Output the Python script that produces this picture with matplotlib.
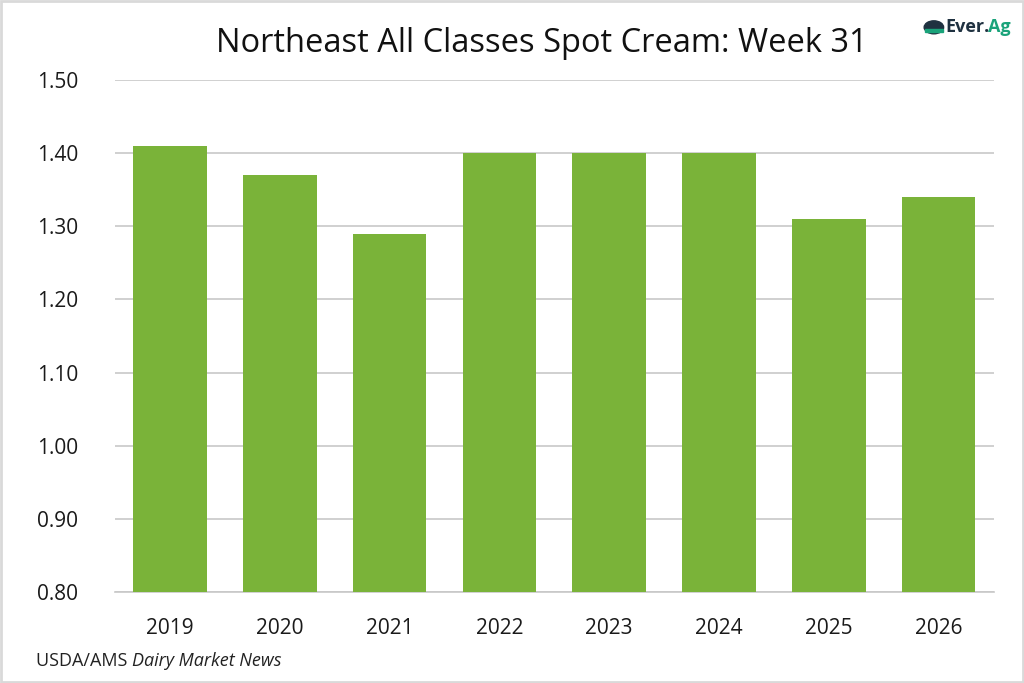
import matplotlib.pyplot as plt
import matplotlib.patches as mpatches
import numpy as np

years = ['2019', '2020', '2021', '2022', '2023', '2024', '2025', '2026']
prices = [1.41, 1.37, 1.29, 1.40, 1.40, 1.40, 1.31, 1.34]
yticks = [0.80, 0.90, 1.00, 1.10, 1.20, 1.30, 1.40, 1.50]

plt.rcParams['font.family'] = ['Open Sans', 'DejaVu Sans']

fig = plt.figure(figsize=(10.24, 6.83), dpi=100)
ax = fig.add_axes([0.1123, 0.1332, 0.858, 0.7497])

x = np.arange(len(years))
ax.bar(x, prices, 0.67, color='#7ab339', zorder=3)

ax.set_xlim(-0.5, len(years) - 0.5)
ax.set_ylim(0.80, 1.50)
ax.set_yticks(yticks)
ax.set_yticklabels(['%.2f' % v for v in yticks])
ax.set_xticks(x)
ax.set_xticklabels(years)
ax.tick_params(axis='both', length=0, labelsize=15, colors='#1a1a1a')
ax.tick_params(axis='x', pad=19)
ax.tick_params(axis='y', pad=56)
for lbl in ax.get_yticklabels():
    lbl.set_horizontalalignment('left')

ax.grid(axis='y', color='#c8c8c8', linewidth=1.2, zorder=0)
for s in ['top', 'right', 'left']:
    ax.spines[s].set_visible(False)
ax.spines['bottom'].set_color('#c8c8c8')
ax.spines['bottom'].set_linewidth(1.2)

fig.text(0.529, 0.937, 'Northeast All Classes Spot Cream: Week 31',
         ha='center', va='center', fontsize=23.5, color='#111111')

# source line: plain part then italic part right after it
src1 = fig.text(0.035, 0.032, 'USDA/AMS ', ha='left', va='center', fontsize=13, color='#222222')
r = fig.canvas.get_renderer()
bb = src1.get_window_extent(renderer=r)
fig.text(bb.x1 / fig.bbox.width, 0.032, 'Dairy Market News', ha='left', va='center',
         fontsize=13, style='italic', color='#222222')

# logo
fig.patches.append(mpatches.Circle((0.912, 0.960), 0.0095, transform=fig.transFigure,
                                   color='#1f3140', figure=fig))
fig.patches.append(mpatches.Rectangle((0.903, 0.953), 0.018, 0.004, transform=fig.transFigure,
                                      color='#1aa37a', figure=fig))
fig.text(0.923, 0.960, 'Ever.', ha='left', va='center', fontsize=13,
         fontweight='bold', color='#1f3140')
fig.text(0.9645, 0.960, 'Ag', ha='left', va='center', fontsize=13,
         fontweight='bold', color='#1aa37a')

# border
fig.patches.append(mpatches.Rectangle((0.001, 0.0015), 0.998, 0.997, transform=fig.transFigure,
                                      fill=False, edgecolor='#d9d9d9', linewidth=2, figure=fig))

fig.savefig('out.png', dpi=100)
